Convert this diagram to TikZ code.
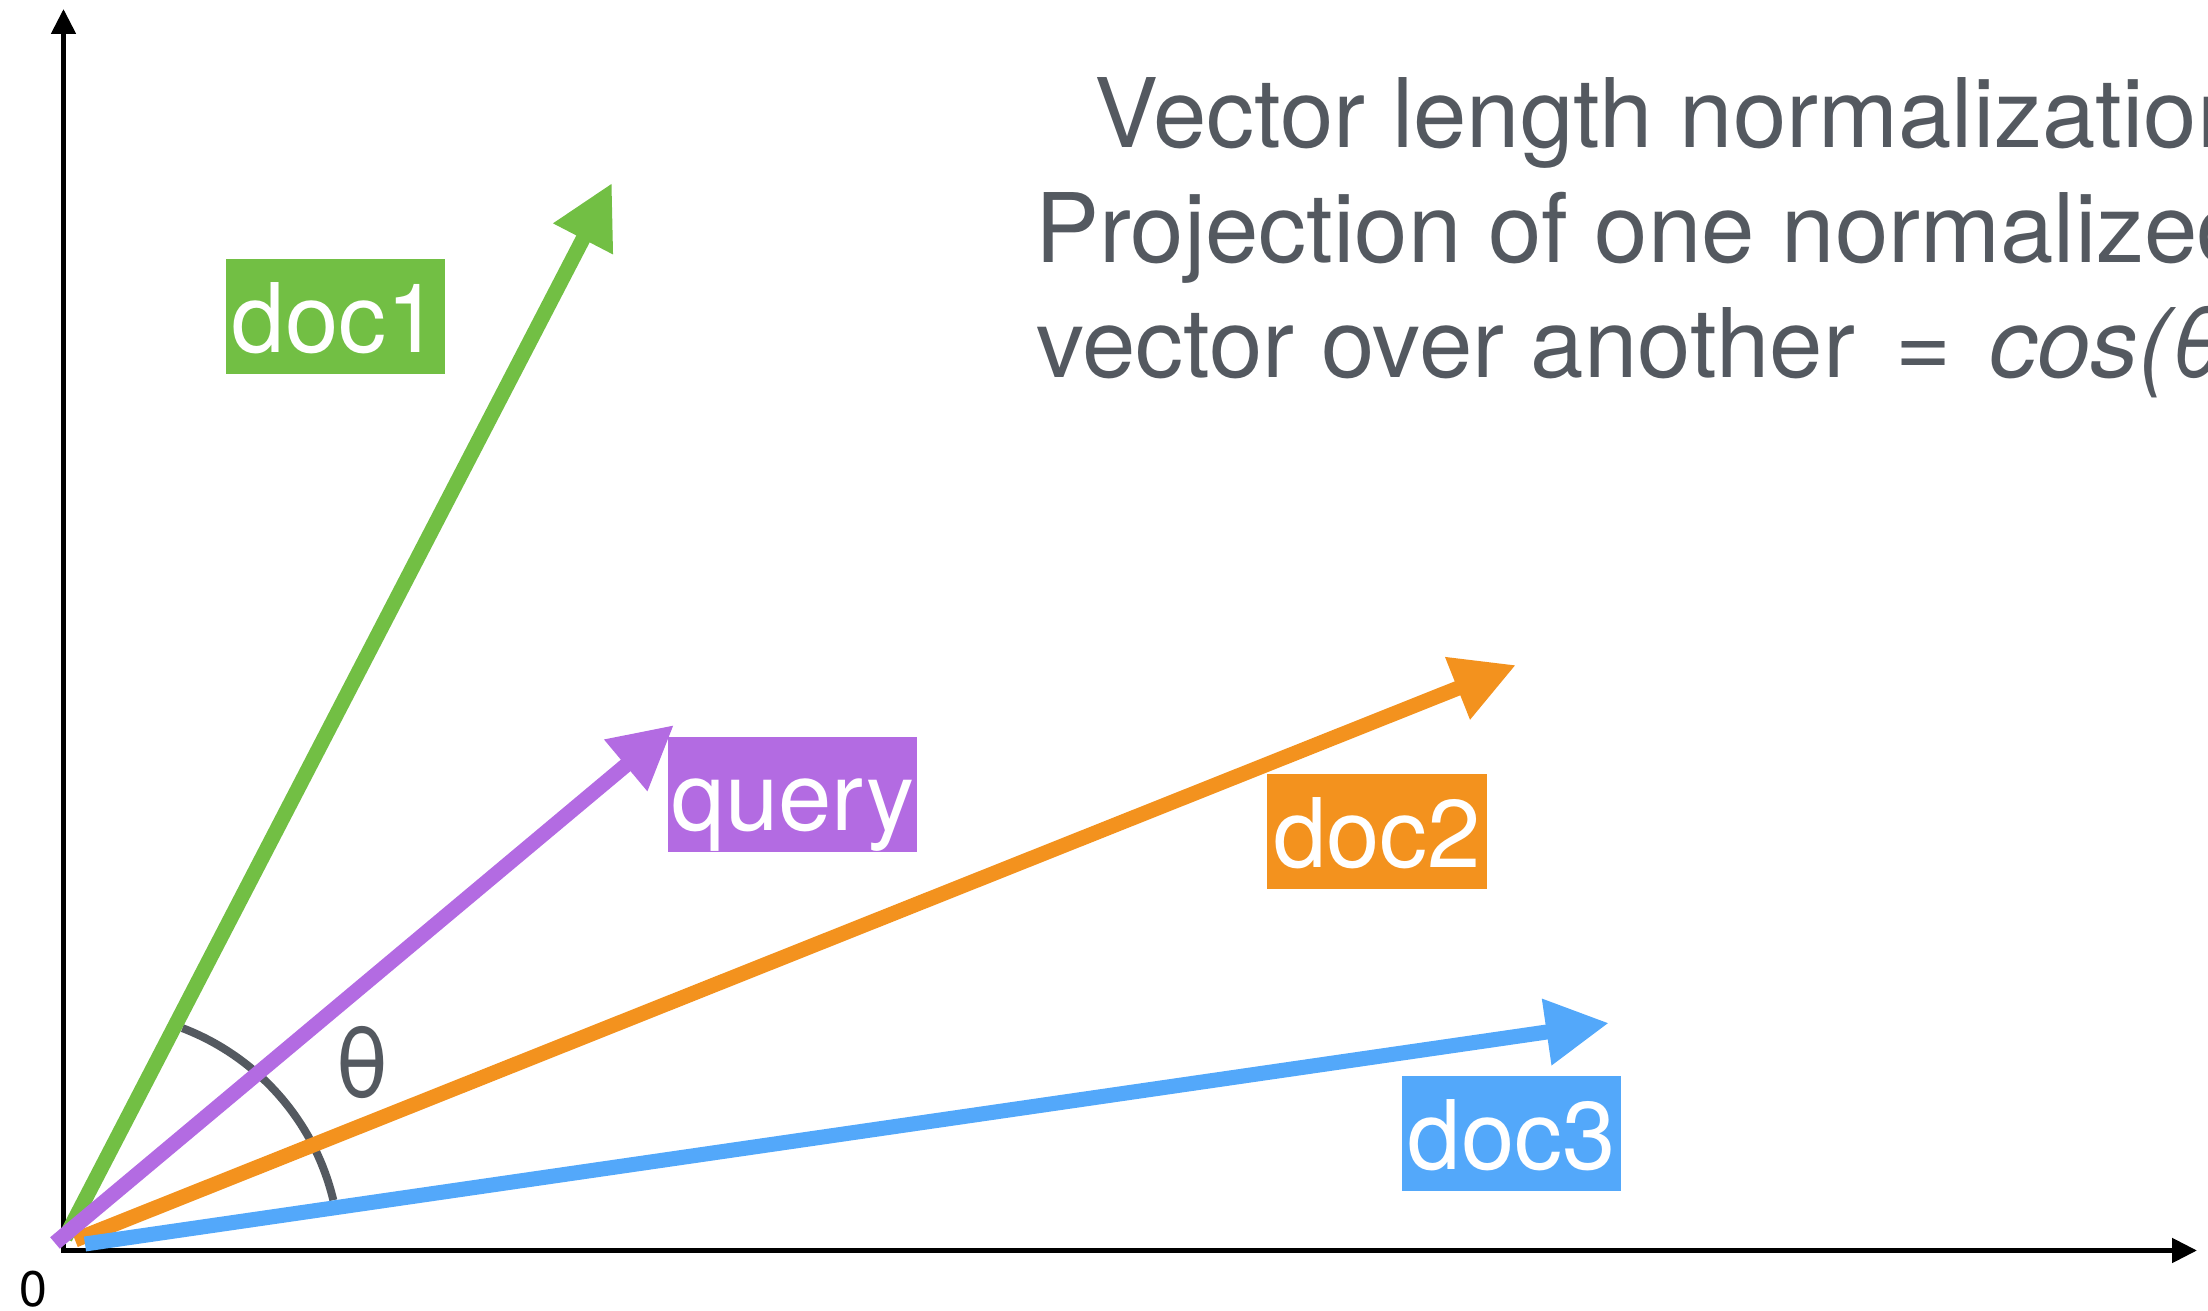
\documentclass[tikz,border=0pt]{standalone}
\usepackage{fontspec}
\setmainfont{TeX Gyre Heros}
\usetikzlibrary{arrows.meta}
\definecolor{cgreen}{RGB}{114,191,68}
\definecolor{cpurple}{RGB}{179,107,226}
\definecolor{corange}{RGB}{243,146,30}
\definecolor{cblue}{RGB}{83,168,250}
\definecolor{cgray}{RGB}{84,89,96}
\begin{document}
\begin{tikzpicture}[x=1pt,y=1pt,
  vec/.style={line width=15pt,-{Triangle[length=63pt,width=63pt]}},
  axis/.style={line width=5pt,-{Triangle[length=25pt,width=24pt]}},
  lbl/.style={inner sep=0pt,minimum width=219pt,text height=93pt,text depth=22pt,
    text=white,font=\fontsize{96}{115}\selectfont,anchor=north west},
  big/.style={inner sep=0pt,anchor=base west,text=cgray,font=\fontsize{96}{115}\selectfont}]
\useasboundingbox (0,0) rectangle (2208,1311);
% axes
\coordinate (ybot) at (63.5,59);
\coordinate (ytop) at (63.5,1302);
\coordinate (xleft) at (61,60.5);
\coordinate (xright) at (2197,60.5);
\draw[axis] (ybot) -- (ytop);
\draw[axis] (xleft) -- (xright);
% angle arc
\coordinate (arcc) at (95,54);
\draw[cgray,line width=8pt] ([shift={(69.1:245)}]arcc) arc[start angle=69.1,end angle=13.4,radius=245];
% vectors
\coordinate (g0) at (65,73);   \coordinate (g1) at (612,1128);
\coordinate (o0) at (75,71);   \coordinate (o1) at (1516,646);
\coordinate (b0) at (85,67);   \coordinate (b1) at (1609,288);
\coordinate (p0) at (55,68);   \coordinate (p1) at (674,586);
\draw[vec,cgreen] (g0) -- (g1);
\draw[vec,corange] (o0) -- (o1);
\draw[vec,cblue] (b0) -- (b1);
\draw[vec,cpurple] (p0) -- (p1);
% labels
\node[lbl,fill=cgreen] (doc1) at (226,1052) {doc1};
\node[lbl,fill=cpurple,minimum width=249pt] (query) at (668,574) {query};
\node[lbl,fill=corange,minimum width=220pt] (doc2) at (1267,537) {doc2};
\node[lbl,fill=cblue] (doc3) at (1402,235) {doc3};
\node[text=cgray,font=\fontsize{96}{115}\selectfont,inner sep=0pt] (theta) at (362,248) {θ};
\node[font=\fontsize{50}{60}\selectfont,inner sep=0pt] (zero) at (33.5,21.5) {0};
% title text (clipped at the right edge, as in the reference)
\begin{scope}
\clip (0,0) rectangle (2208,1311);
\node[big] (l1) at (1094,1163) {Vector length normalization};
\node[big] (l2) at (1035,1048) {Projection of one normalized};
\node[big] (l3) at (1036,933) {vector over another\hspace{14pt} =\hspace{11pt} \textit{cos(θ)}};
\end{scope}
\end{tikzpicture}
\end{document}
